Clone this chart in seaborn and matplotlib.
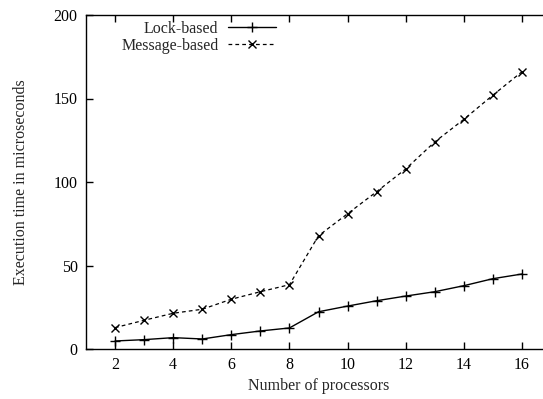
import matplotlib
matplotlib.use('Agg')
import matplotlib.pyplot as plt
import seaborn as sns
import pandas as pd

# 数据
processors = list(range(2, 17))
lock_based = [4.8, 5.6, 6.8, 6.0, 8.6, 10.8, 12.6, 22.3, 25.7, 28.9, 31.7, 34.3, 37.9, 42.1, 44.9]
message_based = [12.8, 17.2, 21.4, 23.8, 29.8, 34.3, 38.5, 67.8, 81.0, 94.2, 107.8, 124.0, 137.5, 152.0, 166.0]

sns.set_theme(style='ticks')
plt.rcParams['font.family'] = ['Liberation Serif', 'DejaVu Serif']

df = pd.DataFrame({
    'procs': processors * 2,
    'time': lock_based + message_based,
    'series': ['Lock-based'] * len(processors) + ['Message-based'] * len(processors),
})

fig = plt.figure(figsize=(5.43, 3.99), dpi=100)
ax = fig.add_axes([86 / 543, 50 / 399, (551 - 86) / 543, 334 / 399])

sns.lineplot(data=df[df.series == 'Lock-based'], x='procs', y='time', ax=ax,
             color='black', lw=1.0, marker='+', markersize=7, mew=1.0,
             mec='black', label='Lock-based')
sns.lineplot(data=df[df.series == 'Message-based'], x='procs', y='time', ax=ax,
             color='black', lw=0.9, marker='x', markersize=6, mew=1.0,
             mec='black', dashes=False, linestyle=(0, (3, 2.5)),
             label='Message-based')

ax.set_xlim(1, 17)
ax.set_ylim(0, 200)
ax.set_xticks(range(2, 17, 2))
ax.set_yticks(range(0, 201, 50))
ax.tick_params(direction='in', length=5, width=1, labelsize=11.5, colors='black',
               top=True, right=True, pad=6)
for s in ax.spines.values():
    s.set_linewidth(1.0)
    s.set_color('black')

ax.set_xlabel('Number of processors', fontsize=11.5, labelpad=3)
ax.set_ylabel('Execution time in microseconds', fontsize=11.5, labelpad=18)

leg = ax.legend(loc='upper left', bbox_to_anchor=(0.045, 1.025), frameon=False,
                markerfirst=False, fontsize=11.5, handlelength=3.0,
                handletextpad=0.6, labelspacing=0.05)
for t in leg.get_texts():
    t.set_ha('right')

fig.savefig('out.png', dpi=100)
